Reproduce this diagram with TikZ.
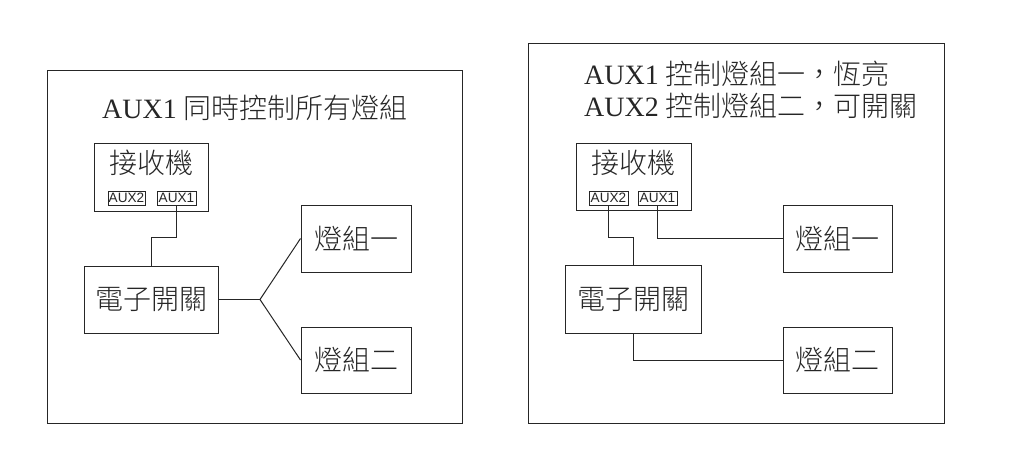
\documentclass[tikz,border=0pt]{standalone}
\usepackage{fontspec}
\setmainfont{Liberation Serif}
\newfontfamily\cjk{Noto Sans CJK TC}[UprightFont={* Light}]
\newfontfamily\auxfont{Liberation Sans}
\tikzset{
  box/.style={draw=black!85, line width=1pt, inner sep=0pt},
  big/.style={font=\cjk\fontsize{28}{34}\selectfont, text=black!85},
  auxbox/.style={draw=black!85, line width=0.9pt, inner sep=0pt, minimum height=14pt,
     font=\auxfont\fontsize{13.6}{14}\selectfont, text=black!85},
  wire/.style={draw=black!85, line width=1pt},
  ttl/.style={anchor=base west, inner sep=0pt, font=\fontsize{28}{32}\selectfont, text=black!85}
}
\begin{document}
\begin{tikzpicture}[x=1pt,y=-1pt]
\useasboundingbox (0,0) rectangle (1022,474);
\fill[white] (0,0) rectangle (1022,474);
% ---------- left panel ----------
\node[box, minimum width=415, minimum height=353] (outer1) at (254.5,246.5) {};
\node[ttl] (title1) at (102,118) {AUX1 {\cjk 同時控制所有燈組}};
\node[box, minimum width=114, minimum height=68] (rx1) at (151,177) {};
\node[big, inner sep=0pt] (rx1t) at (151,163) {接收機};
\node[auxbox, minimum width=37] (a12) at (126.5,198) {AUX2};
\node[auxbox, minimum width=39] (a11) at (176.5,198) {AUX1};
\node[box, big, minimum width=134, minimum height=67] (sw1) at (151,299.5) {電子開關};
\node[box, big, minimum width=110, minimum height=67] (l11) at (356,238.5) {燈組一};
\node[box, big, minimum width=110, minimum height=66] (l12) at (356,360) {燈組二};
\coordinate (b1) at (176.5,237);
\coordinate (fan) at (260,299.5);
\draw[wire] (a11.south) -- (b1) -| (sw1.north);
\draw[wire] (sw1.east) -- (fan);
\draw[wire] (fan) -- (l11.west);
\draw[wire] (fan) -- (l12.west);
% ---------- right panel ----------
\node[box, minimum width=416, minimum height=380] (outer2) at (736,233) {};
\node[ttl] (title2a) at (584,84) {AUX1 {\cjk 控制燈組一，恆亮}};
\node[ttl] (title2b) at (584,116) {AUX2 {\cjk 控制燈組二，可開關}};
\node[box, minimum width=115, minimum height=67] (rx2) at (633.5,176.5) {};
\node[big, inner sep=0pt] (rx2t) at (633.5,163) {接收機};
\node[auxbox, minimum width=39] (a22) at (608.5,198) {AUX2};
\node[auxbox, minimum width=39] (a21) at (657.5,198) {AUX1};
\node[box, big, minimum width=136, minimum height=68] (sw2) at (633,299) {電子開關};
\node[box, big, minimum width=109, minimum height=67] (l21) at (837.5,238.5) {燈組一};
\node[box, big, minimum width=109, minimum height=66] (l22) at (837.5,360) {燈組二};
\coordinate (b2) at (608.5,237);
\draw[wire] (a22.south) -- (b2) -| (sw2.north);
\draw[wire] (a21.south) |- (l21.west);
\draw[wire] (sw2.south) |- (l22.west);
\end{tikzpicture}
\end{document}
